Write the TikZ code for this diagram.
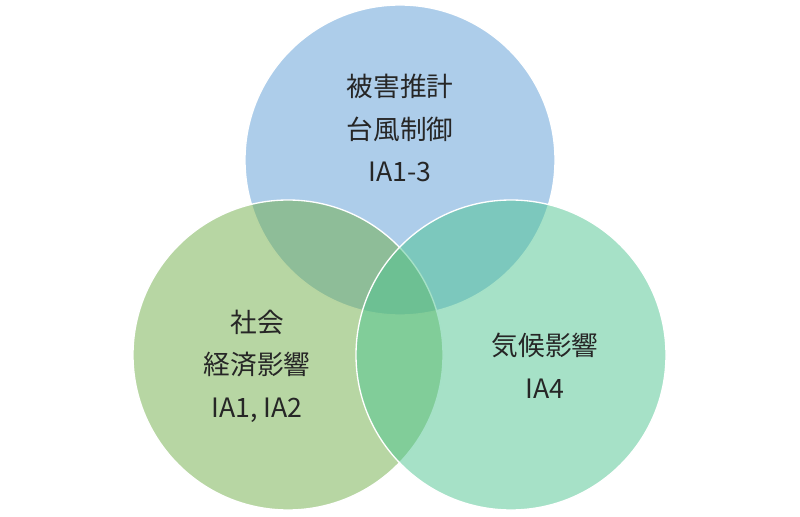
\documentclass[tikz,border=0pt]{standalone}
\usepackage{fontspec}
\newfontfamily\cjk{Noto Sans CJK JP}
\definecolor{topblue}{RGB}{91,155,213}
\definecolor{leftgreen}{RGB}{112,173,71}
\definecolor{rightgreen}{RGB}{77,196,144}
\tikzset{
  venn/.style={circle, minimum size=310*0.75pt, draw=white, line width=1pt, fill opacity=0.5, text opacity=1},
  lbl/.style={align=center, font=\cjk\fontsize{20}{32}\selectfont, text=black!85}
}
\begin{document}
\begin{tikzpicture}[x=0.75pt,y=-0.75pt]
  \useasboundingbox (0,0) rectangle (800,517);
  \node[venn, fill=topblue] (top) at (400,160) {};
  \node[venn, fill=leftgreen] (left) at (288,355) {};
  \node[venn, fill=rightgreen] (right) at (511,355) {};
  \node[lbl] (toplbl) at (400,128) {被害推計\\台風制御\\IA1-3};
  \node[lbl] (leftlbl) at (257,366) {社会\\経済影響\\IA1, IA2};
  \node[lbl] (rightlbl) at (545,366) {気候影響\\IA4};
\end{tikzpicture}
\end{document}
